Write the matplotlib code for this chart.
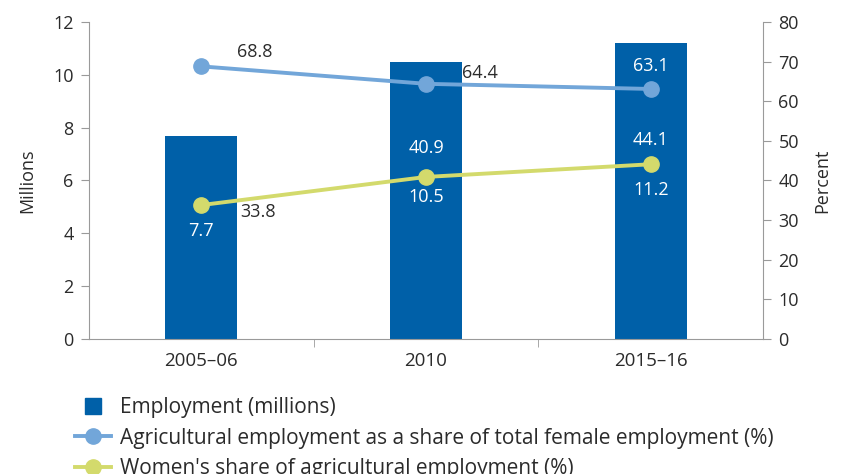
import numpy as np
import matplotlib.pyplot as plt
from matplotlib.lines import Line2D

plt.rcParams['font.family'] = ['Open Sans', 'DejaVu Sans']

# --- data ---
years = ['2005–06', '2010', '2015–16']
employment = [7.7, 10.5, 11.2]          # millions (left axis)
agri_share_female = [68.8, 64.4, 63.1]  # percent (right axis)
women_share_agri = [33.8, 40.9, 44.1]   # percent (right axis)

BAR = '#0060a8'
BLUE = '#72a6d9'
YELLOW = '#d3da6c'
TXT = '#2b2b2b'
GRID = '#9a9a9a'
FS = 13

fig = plt.figure(figsize=(8.41, 4.74), dpi=100)
ax = fig.add_axes([0.1058, 0.2848, 0.8016, 0.6688])
ax2 = ax.twinx()

x = np.arange(len(years))
bars = ax.bar(x, employment, width=0.32, color=BAR, zorder=1)
ax.set_xlim(-0.5, 2.5)
ax.set_ylim(0, 12)
ax.set_yticks(range(0, 13, 2))
ax.set_ylabel('Millions', fontsize=FS, color=TXT, labelpad=12)

ln1, = ax2.plot(x, agri_share_female, color=BLUE, lw=2.8, marker='o', ms=11)
ln2, = ax2.plot(x, women_share_agri, color=YELLOW, lw=2.8, marker='o', ms=11)
ax2.set_ylim(0, 80)
ax2.set_yticks(range(0, 81, 10))
ax2.set_ylabel('Percent', fontsize=FS, color=TXT, labelpad=10)

ax.set_xticks(x)
ax.set_xticklabels(years)
ax.set_xticks([0.5, 1.5], minor=True)
ax.tick_params(axis='x', which='major', length=0, pad=9, labelsize=13.5, labelcolor=TXT)
ax.tick_params(axis='x', which='minor', length=6, direction='out', color=GRID)
ax.tick_params(axis='y', length=6, color=GRID, labelsize=FS, labelcolor=TXT, pad=5)
ax2.tick_params(axis='y', length=6, color=GRID, labelsize=FS, labelcolor=TXT, pad=5)

ax.spines['top'].set_visible(False)
ax.spines['right'].set_visible(False)
for s in ('top', 'left', 'bottom'):
    ax2.spines[s].set_visible(False)
for a, s in ((ax, 'left'), (ax, 'bottom'), (ax2, 'right')):
    a.spines[s].set_color(GRID)


def label(val, series_val, i, dx, dy, color, ha):
    # dx, dy in pixels relative to the marker (dy positive = up)
    ax2.annotate(f'{val}', (x[i], series_val), xytext=(dx * 0.72, dy * 0.72),
                 textcoords='offset points', color=color, ha=ha, va='center',
                 fontsize=FS)


label(agri_share_female[0], agri_share_female[0], 0, 36, 14, TXT, 'left')
label(agri_share_female[1], agri_share_female[1], 1, 36, 11, TXT, 'left')
label(agri_share_female[2], agri_share_female[2], 2, 0, 23, 'white', 'center')
label(women_share_agri[0], women_share_agri[0], 0, 39, -7, TXT, 'left')
label(women_share_agri[1], women_share_agri[1], 1, 0, 29, 'white', 'center')
label(women_share_agri[2], women_share_agri[2], 2, 0, 24, 'white', 'center')
emp_dy = [-26, -20, -26]
for i, v in enumerate(employment):
    label(v, women_share_agri[i], i, 0, emp_dy[i], 'white', 'center')

h_bar = Line2D([], [], color=BAR, marker='s', ms=12, lw=0)
h1 = Line2D([], [], color=BLUE, marker='o', ms=11, lw=2.8)
h2 = Line2D([], [], color=YELLOW, marker='o', ms=11, lw=2.8)
fig.legend([h_bar, h1, h2],
           ['Employment (millions)',
            'Agricultural employment as a share of total female employment (%)',
            "Women's share of agricultural employment (%)"],
           loc='upper left', bbox_to_anchor=(0.089, 0.162), frameon=False,
           fontsize=15, labelcolor=TXT, handlelength=1.75, handletextpad=0.42,
           labelspacing=0.45, borderaxespad=0, borderpad=0)

plt.savefig('out.png', dpi=100)
